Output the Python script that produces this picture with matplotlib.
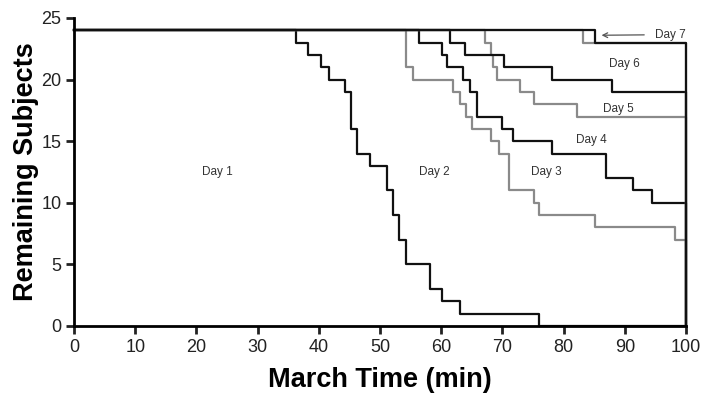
import matplotlib
matplotlib.use("Agg")
import matplotlib.pyplot as plt

plt.rcParams['font.family'] = ['Liberation Sans', 'DejaVu Sans']

# survival-style step data: time of each drop (min) and subjects left after it
n_start = 24
t_end = 100

day1_t = [36.3, 38.3, 40.3, 41.6, 44.3, 45.2, 46.2, 48.3, 51.2, 52.2, 53.1, 54.2, 58.1, 60.2, 63.1, 76.0]
day1_n = [23, 22, 21, 20, 19, 16, 14, 13, 11, 9, 7, 5, 3, 2, 1, 0]

day2_t = [54.3, 55.4, 62.0, 63.1, 64.1, 65.0, 68.2, 69.4, 71.0, 75.2, 76.0, 85.1, 98.2]
day2_n = [21, 20, 19, 18, 17, 16, 15, 14, 11, 10, 9, 8, 7]

day3_t = [56.3, 60.2, 61.0, 63.6, 64.7, 65.9, 70.0, 71.8, 78.1, 87.0, 91.4, 94.4]
day3_n = [23, 22, 21, 20, 19, 17, 16, 15, 14, 12, 11, 10]

day4_t = [67.2, 68.1, 68.4, 69.1, 72.9, 75.1, 82.2]
day4_n = [23, 22, 21, 20, 19, 18, 17]

day5_t = [61.4, 63.9, 70.2, 78.1, 87.9]
day5_n = [23, 22, 21, 20, 19]

day6_t = [83.2]
day6_n = [23]

day7_t = [85.1]
day7_n = [23]

labels = ['Day 1', 'Day 2', 'Day 3', 'Day 4', 'Day 5', 'Day 6']
label_x = [23.5, 58.8, 77.2, 84.5, 89.0, 90.0]
label_y = [12.5, 12.5, 12.5, 15.1, 17.6, 21.3]

BLACK = '#111111'
GRAY = '#8a8a8a'

fig = plt.figure(figsize=(7.02, 3.96), dpi=100)
ax = fig.add_axes([74 / 702, 70 / 396, 612 / 702, 308 / 396])

curves = [(day1_t, day1_n, BLACK), (day2_t, day2_n, GRAY), (day3_t, day3_n, BLACK),
          (day4_t, day4_n, GRAY), (day5_t, day5_n, BLACK), (day6_t, day6_n, GRAY),
          (day7_t, day7_n, BLACK)]
for t, n, c in curves:
    xs = [0] + t + [t_end]
    ys = [n_start] + n + [0]
    ax.step(xs, ys, where='post', color=c, lw=1.6, clip_on=False)

for lab, x, y in zip(labels, label_x, label_y):
    ax.text(x, y, lab, fontsize=8.5, color='#333333', ha='center', va='center')

ax.annotate('Day 7', xy=(86.2, 23.6), xytext=(97.5, 23.65), fontsize=8.5, color='#333333',
            ha='center', va='center', annotation_clip=False,
            arrowprops=dict(arrowstyle='->', color='#555555', lw=0.9, shrinkA=6, shrinkB=0))

ax.set_xlim(0, 100)
ax.set_ylim(0, 25)
ax.set_xticks(range(0, 101, 10))
ax.set_yticks(range(0, 26, 5))
for s in ['top', 'right']:
    ax.spines[s].set_visible(False)
for s in ['left', 'bottom']:
    ax.spines[s].set_linewidth(2)
ax.tick_params(width=2, length=6, labelsize=13, colors='#222222', pad=3)
ax.set_xlabel('March Time (min)', fontsize=19.5, fontweight='bold', labelpad=8)
ax.set_ylabel('Remaining Subjects', fontsize=19.5, fontweight='bold', labelpad=2)

fig.savefig('out.png', dpi=100)
